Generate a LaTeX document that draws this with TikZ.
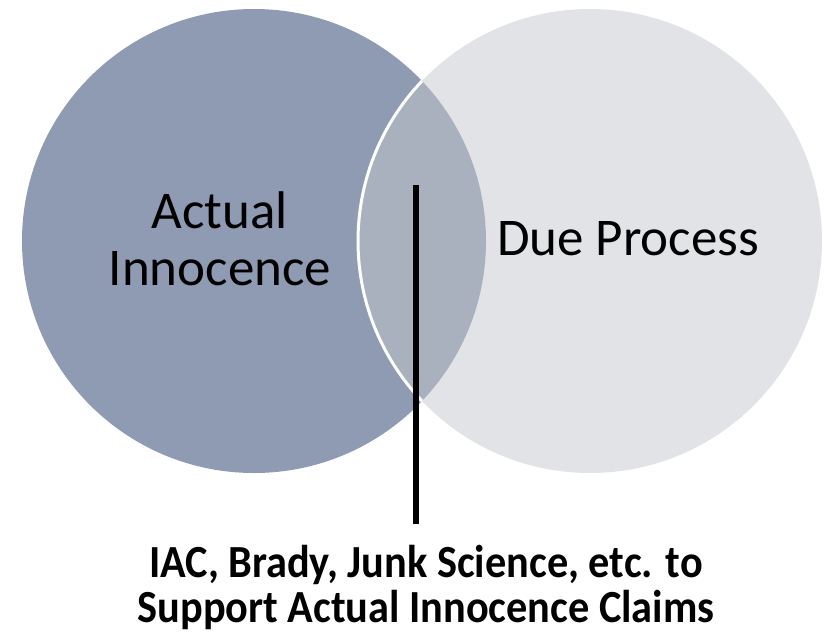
\documentclass[tikz,border=0pt]{standalone}
\usepackage{fontspec}
\setmainfont{Carlito}
\newfontfamily\notefont[FakeStretch=0.92]{Carlito}
\definecolor{innocence}{HTML}{8E9BB2}
\definecolor{process}{HTML}{E1E3E7}
\definecolor{overlap}{HTML}{AAB1BE}
\begin{document}
\begin{tikzpicture}[x=1pt,y=-1pt,
  setlabel/.style={align=center, text=black, font=\fontsize{53}{57}\selectfont},
  notelabel/.style={align=center, text=black, font=\notefont\bfseries\fontsize{46}{45}\selectfont},
  leader/.style={line width=5.5pt, black}]
\useasboundingbox (0,0) rectangle (824,632);

% the two sets
\coordinate (cA) at (254,241);
\coordinate (cB) at (590,241);
\fill[innocence] (cA) circle[radius=232];
\fill[process] (cB) circle[radius=232];

% overlap region and the white rim of the right set inside it
\begin{scope}
  \clip (cA) circle[radius=232];
  \fill[overlap] (cB) circle[radius=232];
  \draw[white, line width=3pt] (cB) circle[radius=232];
\end{scope}

% set names (base anchor sits on the last line)
\node[setlabel, anchor=base] (ai) at (220,285) {Actual\\Innocence};
\node[setlabel, anchor=base] (dp) at (628,255) {Due Process};

% note on the overlap
\coordinate (lensTop) at (416,185);
\node[notelabel, anchor=base] (note) at (426,622)
  {IAC, Brady, Junk Science, etc. to\\Support Actual Innocence Claims};
\coordinate (lensFoot) at (416,524);
\draw[leader] (lensTop) -- (lensFoot);
\end{tikzpicture}
\end{document}
